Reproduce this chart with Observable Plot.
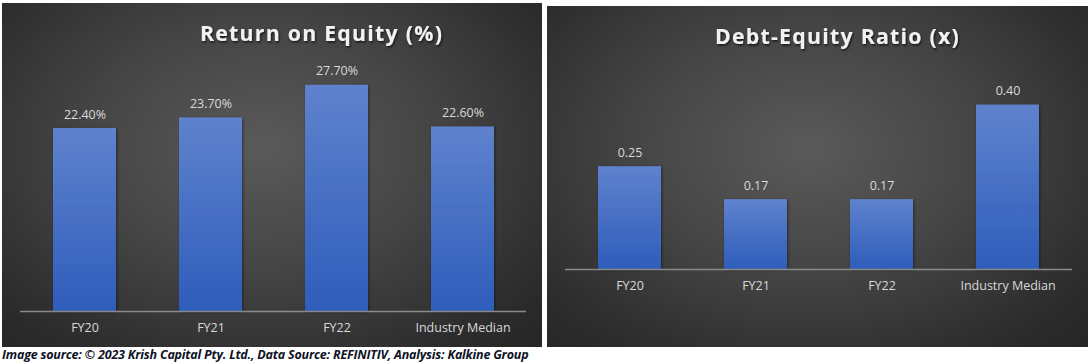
<!DOCTYPE html>
<html>
<head>
<meta charset="utf-8">
<script src="https://cdn.jsdelivr.net/npm/d3@7"></script>
<script src="https://cdn.jsdelivr.net/npm/@observablehq/plot@0.6"></script>
<style>
  html, body { margin: 0; padding: 0; background: #fff; width: 1090px; height: 362px; overflow: hidden; }
  .panel { position: absolute; background: radial-gradient(ellipse at 48% 42%, #5a5a5a 0%, #444 45%, #2b2b2b 85%, #262626 100%); }
  #left { left: 2px; top: 3px; width: 540px; height: 344px; }
  #right { left: 547px; top: 6px; width: 541px; height: 341px; }
  .panel svg { position: absolute; left: 0; top: 0; background: transparent; overflow: visible; }
  #caption { position: absolute; left: 2px; top: 346px; font-family: "Open Sans", sans-serif; font-weight: 700; font-style: italic; font-size: 12.5px; color: #0e1226; white-space: nowrap; letter-spacing: -0.2px; }
</style>
</head>
<body>
<div id="left" class="panel"></div>
<div id="right" class="panel"></div>
<div id="caption">Image source: © 2023 Krish Capital Pty. Ltd., Data Source: REFINITIV, Analysis: Kalkine Group</div>
<script>
const categories = ["FY20", "FY21", "FY22", "Industry Median"];
const roeValues = [22.4, 23.7, 27.7, 22.6];
const deValues = [0.25, 0.17, 0.17, 0.40];
const roeTitle = "Return on Equity (%)";
const deTitle = "Debt-Equity Ratio (x)";

function addDefs(svg, id) {
  const ns = "http://www.w3.org/2000/svg";
  const defs = document.createElementNS(ns, "defs");
  defs.innerHTML = `
    <linearGradient id="${id}" x1="0" y1="0" x2="0" y2="1">
      <stop offset="0" stop-color="#5f82cd"/>
      <stop offset="1" stop-color="#2e5dbb"/>
    </linearGradient>
    <filter id="${id}-sh" x="-20%" y="-20%" width="140%" height="140%">
      <feDropShadow dx="1" dy="1" stdDeviation="1.5" flood-color="#000" flood-opacity="0.45"/>
    </filter>
    <filter id="${id}-tsh" x="-10%" y="-30%" width="120%" height="160%">
      <feDropShadow dx="1" dy="1.5" stdDeviation="1" flood-color="#000" flood-opacity="0.7"/>
    </filter>`;
  svg.insertBefore(defs, svg.firstChild);
}

function makeChart({values, title, width, height, marginTop, marginBottom, yMax, fmt, titleX, titleY, id}) {
  const data = categories.map((c, i) => ({cat: c, v: values[i]}));
  const svg = Plot.plot({
    width, height,
    marginLeft: 18, marginRight: 16, marginTop, marginBottom,
    style: {background: "transparent", color: "#d9d9d9", fontFamily: "'Open Sans', sans-serif"},
    x: {domain: categories, paddingInner: 0.5, paddingOuter: 0.25, label: null},
    y: {domain: [0, yMax], axis: null},
    marks: [
      Plot.barY(data, {x: "cat", y: "v", fill: `url(#${id})`}),
      Plot.ruleY([0], {stroke: "#8a8a8a", strokeWidth: 1.5}),
      Plot.text(data, {x: "cat", y: "v", text: d => fmt(d.v), dy: -14, fill: "#d9d9d9", fontSize: 12.5}),
      Plot.axisX({tickSize: 0, tickPadding: 12, fontSize: 12.5, fill: "#d9d9d9", label: null}),
      Plot.text([title], {frameAnchor: "top-left", dx: titleX, dy: titleY - marginTop, text: d => d, textAnchor: "middle", fill: "#f2f2f2", fontSize: 21.3, fontWeight: "bold", lineAnchor: "middle"})
    ]
  });
  addDefs(svg, id);
  svg.querySelectorAll("g[aria-label='bar'] rect").forEach(r => r.setAttribute("filter", `url(#${id}-sh)`));
  const tt = svg.querySelectorAll("g[aria-label='text']");
  const titleG = tt[tt.length - 1];
  titleG.setAttribute("filter", `url(#${id}-tsh)`);
  titleG.setAttribute("letter-spacing", "1.25px");
  return svg;
}

document.getElementById("left").appendChild(makeChart({
  values: roeValues, title: roeTitle, width: 540, height: 344,
  marginTop: 63, marginBottom: 36, yMax: 30,
  fmt: v => v.toFixed(2) + "%", titleX: 319 - 18, titleY: 31, id: "gL"
}));
document.getElementById("right").appendChild(makeChart({
  values: deValues, title: deTitle, width: 541, height: 341,
  marginTop: 78, marginBottom: 78, yMax: 0.45,
  fmt: v => v.toFixed(2), titleX: 290 - 18, titleY: 31, id: "gR"
}));
</script>
</body>
</html>
